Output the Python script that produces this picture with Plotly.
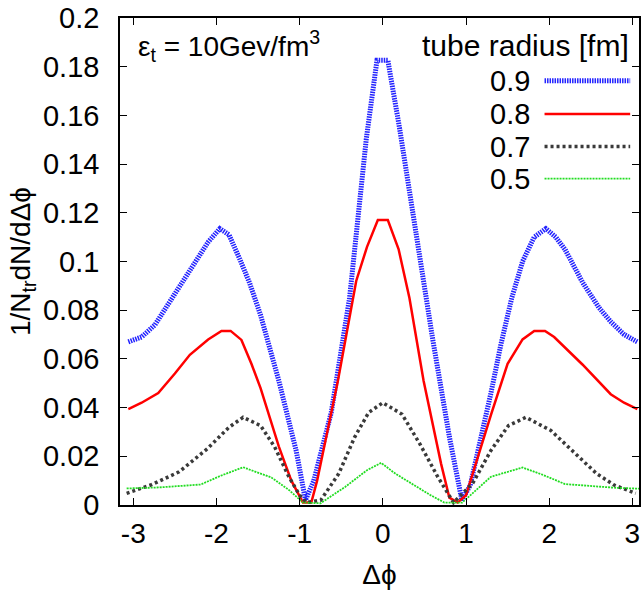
import plotly.graph_objects as go

# ---- data ----
x_09 = [-3.06, -2.90, -2.74, -2.53, -2.32, -2.10, -1.96, -1.85, -1.72, -1.60, -1.47, -1.25, -1.04, -0.93,
        -0.83, -0.62, -0.40, -0.20, -0.07, 0.06, 0.20, 0.40, 0.60, 0.80, 0.95, 1.05, 1.17, 1.30, 1.42,
        1.55, 1.68, 1.82, 1.96, 2.08, 2.19, 2.40, 2.60, 2.74, 2.90, 3.06]
y_09 = [0.067, 0.069, 0.074, 0.085, 0.096, 0.108, 0.1135, 0.111, 0.101, 0.091, 0.078, 0.051, 0.022, 0.002,
        0.010, 0.038, 0.085, 0.150, 0.1827, 0.1827, 0.155, 0.110, 0.068, 0.028, 0.002, 0.008, 0.026, 0.046, 0.066,
        0.085, 0.100, 0.110, 0.1135, 0.110, 0.105, 0.0915, 0.081, 0.0753, 0.070, 0.067]

x_08 = [-3.06, -2.90, -2.70, -2.50, -2.32, -2.10, -1.94, -1.83, -1.70, -1.58, -1.47, -1.25, -1.10, -0.96,
        -0.86, -0.79, -0.54, -0.32, -0.19, -0.06, 0.06, 0.19, 0.32, 0.49, 0.70, 0.80, 0.90, 1.00, 1.30,
        1.50, 1.68, 1.82, 1.95, 2.06, 2.40, 2.74, 2.90, 3.06]
y_08 = [0.0394, 0.042, 0.046, 0.054, 0.0617, 0.068, 0.0715, 0.0715, 0.0678, 0.058, 0.048, 0.024, 0.010, 0.001,
        0.001, 0.010, 0.051, 0.092, 0.106, 0.117, 0.117, 0.105, 0.085, 0.051, 0.017, 0.003, 0.001, 0.004, 0.037,
        0.058, 0.068, 0.0715, 0.0715, 0.069, 0.0577, 0.0455, 0.042, 0.0394]

x_07 = [-3.08, -2.79, -2.45, -2.11, -1.85, -1.68, -1.47, -1.30, -1.13, -1.00, -0.915, -0.745, -0.53, -0.34,
        -0.17, 0.0, 0.23, 0.445, 0.66, 0.85, 1.08, 1.30, 1.51, 1.72, 2.02, 2.27, 2.57, 2.78, 3.04]
y_07 = [0.0048, 0.0082, 0.0136, 0.0231, 0.0319, 0.036, 0.0326, 0.0238, 0.0116, 0.004, 0.001, 0.002, 0.0129, 0.0278,
        0.038, 0.042, 0.0373, 0.0251, 0.0116, 0.001, 0.0089, 0.0224, 0.0326, 0.036, 0.0306, 0.0224, 0.0129, 0.0082, 0.0048]

x_05 = [-3.08, -2.70, -2.19, -1.95, -1.68, -1.34, -1.13, -0.96, -0.75, -0.45, -0.19, -0.02, 0.15, 0.57,
        0.74, 0.955, 1.30, 1.68, 1.93, 2.19, 2.78, 3.08]
y_05 = [0.0068, 0.0072, 0.0084, 0.012, 0.0155, 0.0113, 0.0062, 0.001, 0.0007, 0.0075, 0.0143, 0.0173, 0.0129, 0.0041,
        0.001, 0.001, 0.0116, 0.0154, 0.0123, 0.0086, 0.0071, 0.0067]

series_names = ["0.9", "0.8", "0.7", "0.5"]
x_ticks = [-3, -2, -1, 0, 1, 2, 3]
x_tick_text = ["-3", "-2", "-1", "0", "1", "2", "3"]

styles = [
    dict(color="#2323ff", width=5, dash="1.5px,1px"),
    dict(color="#ff0000", width=2.5, dash="solid"),
    dict(color="#3a3a3a", width=3.5, dash="3px,3px"),
    dict(color="#22dd22", width=1.8, dash="2px,1px"),
]

FONT = "Liberation Sans, Arial, Helvetica, sans-serif"

fig = go.Figure()
for xs, ys, name, st in zip([x_09, x_08, x_07, x_05], [y_09, y_08, y_07, y_05], series_names, styles):
    fig.add_trace(go.Scatter(x=xs, y=ys, mode="lines", name=name, line=st, showlegend=False,
                             hoverinfo="skip"))

# manual legend (text left of sample line, as in gnuplot)
rows_y = [0.871, 0.803, 0.736, 0.670]
annotations = [
    dict(text="tube radius [fm]", xref="paper", yref="paper", x=0.985, y=0.943,
         xanchor="right", yanchor="middle", showarrow=False, font=dict(size=30, color="black", family=FONT)),
    dict(text="ε<sub>t</sub> = 10Gev/fm<sup>3</sup>", xref="paper", yref="paper", x=0.030, y=0.943,
         xanchor="left", yanchor="middle", showarrow=False, font=dict(size=28, color="black", family=FONT)),
]
shapes = []
for name, st, ry in zip(series_names, styles, rows_y):
    annotations.append(dict(text=name, xref="paper", yref="paper", x=0.793, y=ry, xanchor="right",
                            yanchor="middle", showarrow=False, font=dict(size=29, color="black", family=FONT)))
    shapes.append(dict(type="line", xref="paper", yref="paper", x0=0.818, x1=0.983, y0=ry, y1=ry,
                       line=dict(color=st["color"], width=st["width"], dash=st["dash"])))

fig.update_layout(
    width=643, height=608,
    margin=dict(l=120, r=2, t=17, b=103),
    plot_bgcolor="white", paper_bgcolor="white",
    font=dict(family=FONT, size=28, color="black"),
    annotations=annotations, shapes=shapes,
    showlegend=False,
)
fig.update_xaxes(range=[-3.16, 3.08], tickvals=x_ticks, ticktext=x_tick_text,
                 ticks="inside", ticklen=7, tickwidth=1.2, tickcolor="black",
                 showline=True, linecolor="black", linewidth=1.5, mirror="ticks",
                 showgrid=False, zeroline=False, ticklabelstandoff=3,
                 title=dict(text="Δϕ", font=dict(size=28), standoff=16),
                 tickfont=dict(size=28))
fig.update_yaxes(range=[0, 0.2], dtick=0.02, tick0=0,
                 ticks="inside", ticklen=7, tickwidth=1.2, tickcolor="black",
                 showline=True, linecolor="black", linewidth=1.5, mirror="ticks",
                 showgrid=False, zeroline=False, ticklabelstandoff=13,
                 title=dict(text="1/N<sub>tr</sub>dN/dΔϕ", font=dict(size=28), standoff=4),
                 tickfont=dict(size=29))

fig.write_html("out.html", post_script="document.body.style.margin='0';",
               config={"displayModeBar": False})
